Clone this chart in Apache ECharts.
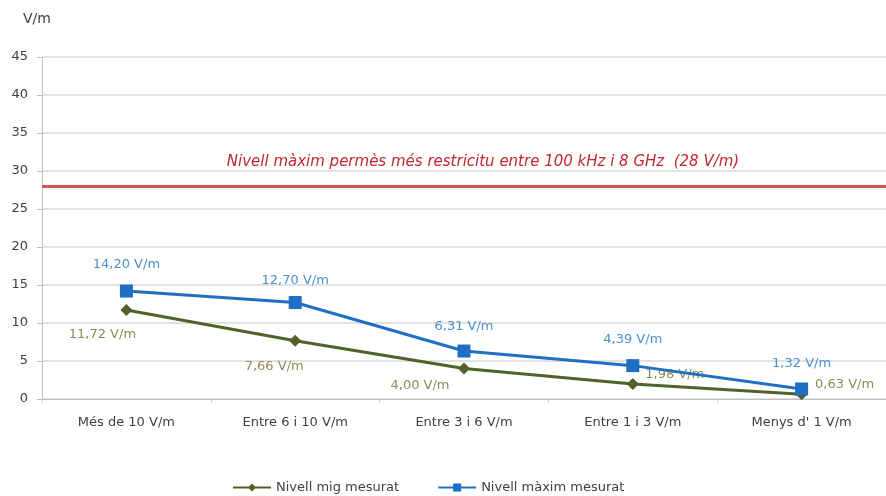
<!DOCTYPE html>
<html>
<head>
<meta charset="utf-8">
<script src="https://cdn.jsdelivr.net/npm/echarts@6/dist/echarts.min.js"></script>
<style>
  html, body { margin: 0; padding: 0; background: #fff; }
  #chart { width: 886px; height: 496px; }
</style>
</head>
<body>
<div id="chart"></div>
<script>
const categories = ['Més de 10 V/m', 'Entre 6 i 10 V/m', 'Entre 3 i 6 V/m', 'Entre 1 i 3 V/m', "Menys d' 1 V/m"];
const mig = [11.72, 7.66, 4.00, 1.98, 0.63];
const maxim = [14.20, 12.70, 6.31, 4.39, 1.32];
const limit = 28;
const limitText = 'Nivell màxim permès més restricitu entre 100 kHz i 8 GHz  (28 V/m)';

// posicions de les etiquetes respecte al punt
const migOffsets = [[-24, 25], [-21, 26], [-44, 17], [42, -9], [43, -10]];
const maximOffsets = [[0, -26], [0, -22], [0, -24], [0, -26], [0, -25]];

const fmt = v => v.toFixed(2).replace('.', ',') + ' V/m';
const font = '"DejaVu Sans", sans-serif';

const chart = echarts.init(document.getElementById('chart'));

const option = {
  animation: false,
  textStyle: { fontFamily: font },
  grid: { left: 42, right: 0, top: 57, bottom: 97 },
  title: {
    text: 'V/m',
    left: 18, top: 7,
    textStyle: { fontSize: 14, fontWeight: 'normal', color: '#404040', fontFamily: font }
  },
  legend: {
    top: 476,
    left: 227,
    itemWidth: 38,
    itemHeight: 10,
    itemGap: 38,
    textStyle: { fontSize: 13, color: '#404040' },
    data: ['Nivell mig mesurat', 'Nivell màxim mesurat']
  },
  xAxis: {
    type: 'category',
    data: categories,
    axisLine: { lineStyle: { color: '#bfbfbf' } },
    axisTick: { show: true, length: 4, lineStyle: { color: '#d0d0d0' } },
    axisLabel: { fontSize: 13, color: '#404040', margin: 17 }
  },
  yAxis: {
    type: 'value',
    min: 0, max: 45, interval: 5,
    axisLine: { show: true, lineStyle: { color: '#bfbfbf' } },
    axisTick: { show: true, length: 5, lineStyle: { color: '#bfbfbf' } },
    axisLabel: { fontSize: 13, color: '#404040', margin: 14 },
    splitLine: { lineStyle: { color: '#d9d9d9', width: 1.5 } }
  },
  series: [
    {
      name: 'Nivell mig mesurat',
      type: 'line',
      data: mig.map((v, i) => ({
        value: v,
        label: { offset: migOffsets[i] }
      })),
      symbol: 'diamond',
      symbolSize: 12,
      lineStyle: { color: '#4f6228', width: 3 },
      itemStyle: { color: '#4f6228' },
      label: {
        show: true,
        position: 'inside',
        formatter: p => fmt(p.value),
        color: '#8c8c52',
        fontSize: 13
      },
      z: 3
    },
    {
      name: 'Nivell màxim mesurat',
      type: 'line',
      data: maxim.map((v, i) => ({
        value: v,
        label: { offset: maximOffsets[i] }
      })),
      symbol: 'rect',
      symbolSize: 13,
      lineStyle: { color: '#1f6fc5', width: 3 },
      itemStyle: { color: '#1f6fc5' },
      label: {
        show: true,
        position: 'inside',
        formatter: p => fmt(p.value),
        color: '#4a8fd0',
        fontSize: 13
      },
      markLine: {
        silent: true,
        symbol: 'none',
        lineStyle: { color: '#cc5558', width: 3, type: 'solid' },
        label: {
          show: true,
          position: 'middle',
          formatter: limitText,
          color: '#c0282f',
          fontStyle: 'italic',
          fontSize: 15,
          distance: 17,
          offset: [19, 0]
        },
        data: [{ yAxis: limit }]
      },
      z: 4
    }
  ]
};

chart.setOption(option);
</script>
</body>
</html>
